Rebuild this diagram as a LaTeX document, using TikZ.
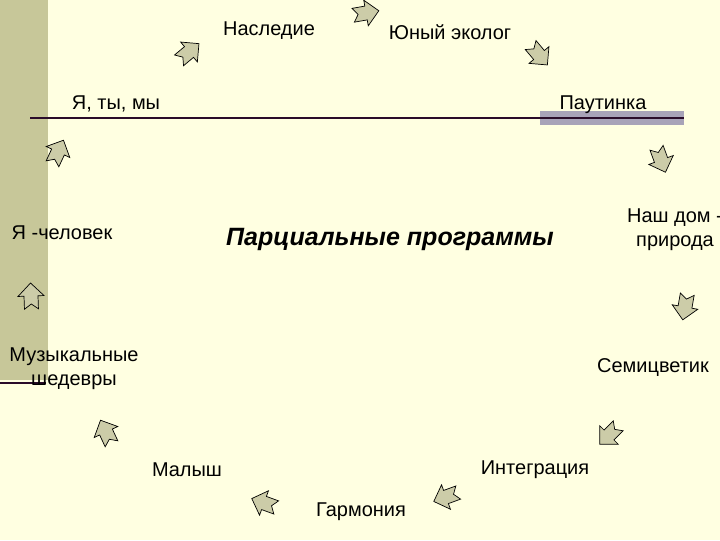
\documentclass[tikz,border=0pt]{standalone}
\usepackage{fontspec}
\setmainfont{Liberation Sans}
\definecolor{slidebg}{RGB}{255,255,225}
\definecolor{barolive}{RGB}{199,199,153}
\definecolor{arrowfill}{RGB}{204,204,168}
\definecolor{lineplum}{RGB}{42,12,42}
\definecolor{bandgray}{RGB}{168,163,184}
\tikzset{
	lbl/.style = {font=\fontsize{14.2}{17}\selectfont, inner sep=0pt, align=center},
	notch/.style = {fill=arrowfill, draw=black, line width=0.5pt, line join=miter},
}
\begin{document}
\begin{tikzpicture}[x=0.025cm, y=0.025cm]
	\useasboundingbox (0,0) rectangle (720,-540);
	\fill[slidebg] (0,0) rectangle (720,-540);
	\fill[barolive] (0,0) rectangle (48,-380);
	\fill[bandgray] (540,-111) rectangle (684,-125);
	\draw[lineplum, line width=1.5pt] (30,-118) -- (684,-118);
	\draw[lineplum, line width=1.5pt] (0,-383) -- (46,-383);
	% notched arrows round the circle
	\foreach \x/\y/\a in {189/52/40, 366/13/10, 539/55/-50, 661/160/-70,
		685/307/-100, 609/435/-135, 446/497/-160, 264/503/160,
		106/432/115, 31/296/92, 58/152/65}{
		\draw[notch, shift={(\x,-\y)}, rotate=\a]
			(-13,7) -- (0,7) -- (0,13) -- (13,0) -- (0,-13) -- (0,-7)
			-- (-13,-7) -- (-8,0) -- cycle;
	}
	\node[lbl] (nasledie) at (269,-31) {Наследие};
	\node[lbl] (ekolog) at (450,-32) {Юный эколог};
	\node[lbl] (yatymy) at (116,-104) {Я, ты, мы};
	\node[lbl] (pautinka) at (603,-105) {Паутинка};
	\node[lbl] (chelovek) at (62,-233) {Я -человек};
	\node[lbl] (nashdom) at (675,-230) {Наш дом -\\природа};
	\node[lbl] (muzyka) at (74,-369) {Музыкальные\\шедевры};
	\node[lbl] (semi) at (653,-368) {Семицветик};
	\node[lbl] (malysh) at (187,-470) {Малыш};
	\node[lbl] (integr) at (535,-470) {Интеграция};
	\node[lbl] (garmonia) at (361,-512) {Гармония};
	\node[font=\fontsize{17.8}{21}\selectfont\bfseries\itshape, inner sep=0pt]
		(title) at (390,-239) {Парциальные программы};
\end{tikzpicture}
\end{document}
